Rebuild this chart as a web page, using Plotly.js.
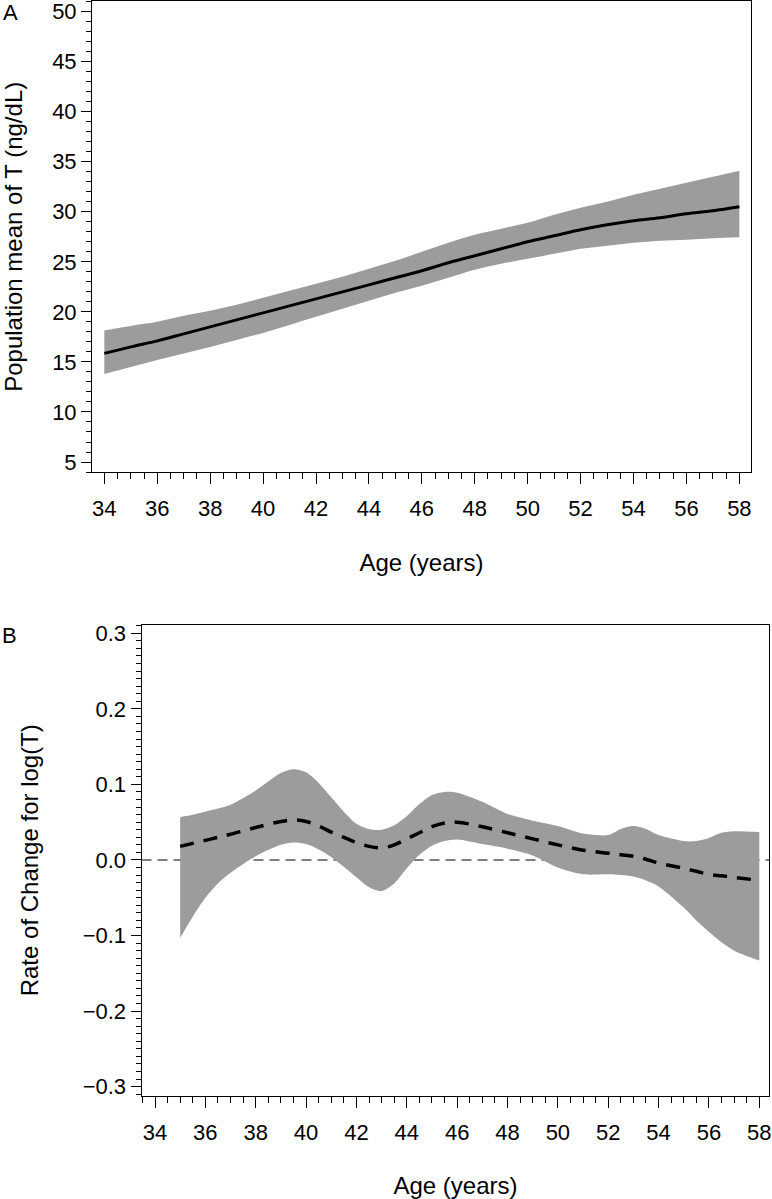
<!DOCTYPE html>
<html>
<head>
<meta charset="utf-8">
<script src="https://cdn.plot.ly/plotly-3.0.1.min.js"></script>
<style>html,body{margin:0;padding:0;background:#fff;}#chart{width:772px;height:1199px;}</style>
</head>
<body>
<div id="chart"></div>
<script>
// Panel A: population mean of T (ng/dL) by age
const agesA = [34,35,36,37,38,39,40,41,42,43,44,45,46,47,48,49,50,51,52,53,54,55,56,57,58];
const meanA = [15.85,16.5,17.1,17.8,18.5,19.2,19.9,20.6,21.3,22.0,22.7,23.4,24.1,24.9,25.6,26.3,27.0,27.6,28.2,28.7,29.1,29.4,29.8,30.1,30.5];
const upperA = [18.15,18.6,19.0,19.6,20.1,20.7,21.4,22.1,22.8,23.5,24.3,25.1,26.0,26.9,27.7,28.3,28.9,29.7,30.4,31.0,31.7,32.3,32.9,33.5,34.1];
const lowerA = [13.8,14.5,15.2,15.85,16.5,17.2,17.9,18.7,19.5,20.3,21.1,21.9,22.6,23.4,24.2,24.8,25.3,25.8,26.3,26.6,26.9,27.1,27.2,27.35,27.45];

// Panel B: rate of change for log(T)
const agesB = [35,35.5,36,36.5,37,38,39,39.5,40,40.5,41,41.5,42,42.5,43,43.5,44,44.5,45,45.5,46,47,48,49,50,51,52,52.5,53,53.5,54,55,55.5,56,56.5,57,58];
const rateB = [0.018,0.022,0.026,0.030,0.034,0.043,0.051,0.053,0.051,0.045,0.037,0.030,0.023,0.018,0.016,0.020,0.028,0.036,0.044,0.049,0.050,0.044,0.036,0.028,0.020,0.013,0.009,0.007,0.005,0.001,-0.004,-0.011,-0.015,-0.019,-0.021,-0.023,-0.027];
const upperB = [0.057,0.060,0.064,0.068,0.073,0.092,0.115,0.120,0.116,0.102,0.083,0.064,0.048,0.041,0.040,0.046,0.058,0.074,0.086,0.090,0.089,0.077,0.061,0.052,0.045,0.035,0.033,0.041,0.045,0.041,0.033,0.025,0.025,0.029,0.036,0.038,0.037];
const lowerB = [-0.103,-0.075,-0.050,-0.031,-0.017,0.005,0.020,0.023,0.021,0.014,0.004,-0.009,-0.023,-0.036,-0.041,-0.031,-0.011,0.007,0.019,0.025,0.027,0.021,0.015,0.006,-0.010,-0.019,-0.019,-0.020,-0.022,-0.027,-0.035,-0.063,-0.080,-0.095,-0.109,-0.120,-0.133];

const xTicksA = [34,36,38,40,42,44,46,48,50,52,54,56,58];
const yTicksA = [5,10,15,20,25,30,35,40,45,50];
const yTicksB = [-0.3,-0.2,-0.1,0.0,0.1,0.2,0.3];

const FONT = 'Liberation Sans, Arial, Helvetica, sans-serif';
const BAND = '#9c9c9c';

const traces = [
  {x: agesA, y: lowerA, xaxis:'x', yaxis:'y', mode:'lines', line:{width:0, color:BAND, shape:'spline'}, hoverinfo:'skip', showlegend:false},
  {x: agesA, y: upperA, xaxis:'x', yaxis:'y', mode:'lines', line:{width:0, color:BAND, shape:'spline'}, fill:'tonexty', fillcolor:BAND, hoverinfo:'skip', showlegend:false},
  {x: agesA, y: meanA, xaxis:'x', yaxis:'y', mode:'lines', line:{width:3, color:'#000', shape:'spline'}, showlegend:false},
  {x: agesB, y: lowerB, xaxis:'x2', yaxis:'y2', mode:'lines', line:{width:0, color:BAND, shape:'spline', smoothing:0.8}, hoverinfo:'skip', showlegend:false},
  {x: agesB, y: upperB, xaxis:'x2', yaxis:'y2', mode:'lines', line:{width:0, color:BAND, shape:'spline', smoothing:0.8}, fill:'tonexty', fillcolor:BAND, hoverinfo:'skip', showlegend:false},
  {x: agesB, y: rateB, xaxis:'x2', yaxis:'y2', mode:'lines', line:{width:3.5, color:'#000', shape:'spline', dash:'14px,10px'}, showlegend:false}
];

function xAxis(domain, range, anchor, standoff) {
  return {
    domain: domain, range: range, anchor: anchor,
    tickmode:'array', tickvals: xTicksA, ticktext: xTicksA.map(String),
    ticks:'outside', ticklen:11, tickwidth:1, tickcolor:'#000',
    ticklabelstandoff: 6, ticklabeloverflow:'allow',
    minor:{ticks:'outside', ticklen:6, tickwidth:1, tickcolor:'#000', dtick:0.5, tick0:34, showgrid:false},
    showline:true, mirror:true, linecolor:'#000', linewidth:1,
    showgrid:false, zeroline:false,
    tickfont:{family:FONT, size:22, color:'#000'},
    title:{text:'Age (years)', font:{family:FONT, size:24, color:'#000'}, standoff:standoff}
  };
}

const layout = {
  width:772, height:1199,
  margin:{l:0, r:0, t:0, b:0},
  paper_bgcolor:'#fff', plot_bgcolor:'#fff',
  showlegend:false,
  xaxis: xAxis([0.1192, 0.9728], [33.535, 58.44], 'y', 33),
  yaxis: {
    domain:[0.6063, 0.99875], range:[4, 51], anchor:'x',
    tickmode:'array', tickvals:yTicksA, ticktext:yTicksA.map(String),
    ticks:'outside', ticklen:10, tickwidth:1, tickcolor:'#000',
    ticklabeloverflow:'allow',
    minor:{ticks:'outside', ticklen:5, tickwidth:1, tickcolor:'#000', dtick:1, tick0:0, showgrid:false},
    showline:true, mirror:true, linecolor:'#000', linewidth:1,
    showgrid:false, zeroline:false,
    tickfont:{family:FONT, size:22, color:'#000'},
    title:{text:'Population mean of T (ng/dL)', font:{family:FONT, size:24, color:'#000'}, standoff:30}
  },
  xaxis2: xAxis([0.1833, 0.99676], [33.464, 58.405], 'y2', 34),
  yaxis2: {
    domain:[0.08632, 0.47873], range:[-0.3117, 0.311], anchor:'x2',
    tickmode:'array', tickvals:yTicksB, ticktext:yTicksB.map(v => (v < 0 ? '\u2212' : '') + Math.abs(v).toFixed(1)),
    ticks:'outside', ticklen:10, tickwidth:1, tickcolor:'#000',
    ticklabeloverflow:'allow',
    minor:{ticks:'outside', ticklen:5, tickwidth:1, tickcolor:'#000', dtick:0.01, tick0:0, showgrid:false},
    showline:true, mirror:true, linecolor:'#000', linewidth:1,
    showgrid:false, zeroline:false,
    tickfont:{family:FONT, size:22, color:'#000'},
    title:{text:'Rate of Change for log(T)', font:{family:FONT, size:24, color:'#000'}, standoff:37}
  },
  shapes: [
    {type:'line', xref:'x2 domain', yref:'y2', x0:0, x1:1, y0:0, y1:0, layer:'below', line:{color:'#000', width:1.2, dash:'10px,6px'}}
  ],
  annotations: [
    {text:'A', xref:'paper', yref:'paper', x:10/772, y:1-12/1199, xanchor:'center', yanchor:'middle', showarrow:false, font:{family:FONT, size:22, color:'#000'}},
    {text:'B', xref:'paper', yref:'paper', x:9/772, y:1-635/1199, xanchor:'center', yanchor:'middle', showarrow:false, font:{family:FONT, size:22, color:'#000'}}
  ]
};

Plotly.newPlot('chart', traces, layout, {displayModeBar:false, staticPlot:true});
</script>
</body>
</html>
